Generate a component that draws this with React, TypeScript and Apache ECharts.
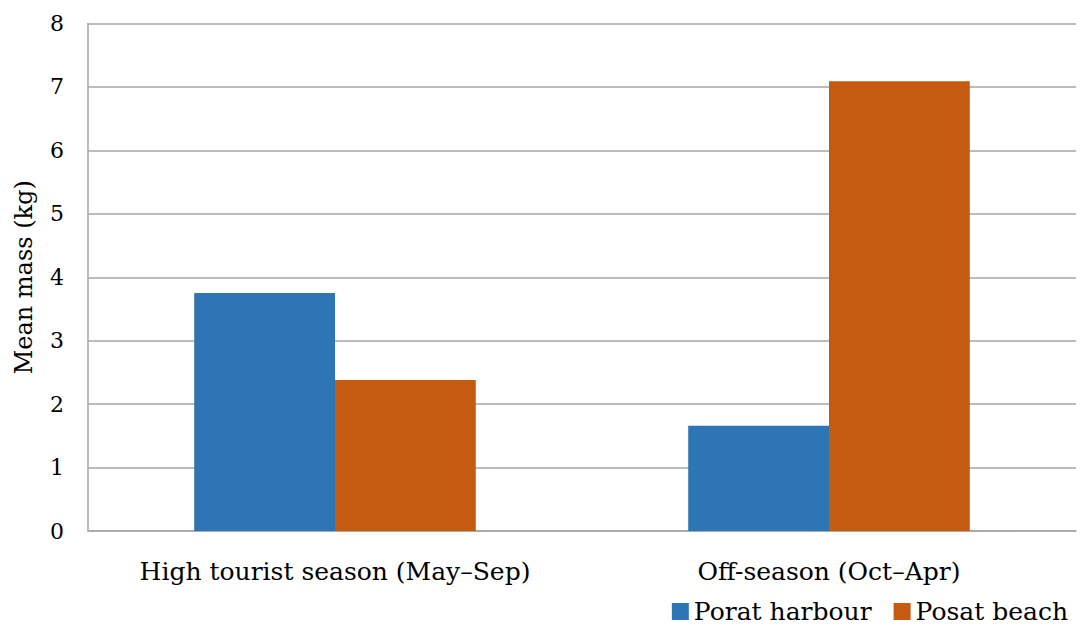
import React, { useEffect, useRef } from "react";
import * as echarts from "echarts";

const categories = ["High tourist season (May–Sep)", "Off-season (Oct–Apr)"];
const poratHarbour = [3.75, 1.66];
const posatBeach = [2.38, 7.09];
const seriesNames = ["Porat harbour", "Posat beach"];
const yTicks = [0, 1, 2, 3, 4, 5, 6, 7, 8];

const FONT = "DejaVu Serif";

export default function App() {
  const ref = useRef<HTMLDivElement>(null);
  useEffect(() => {
    if (!ref.current) return;
    const chart = echarts.init(ref.current, undefined, { renderer: "svg" });
    chart.setOption({
      animation: false,
      backgroundColor: "#ffffff",
      textStyle: { fontFamily: FONT, color: "#000" },
      grid: { left: 88, right: 11, top: 23.5, bottom: 101, containLabel: false, outerBoundsMode: "none" },
      legend: {
        data: seriesNames,
        right: 14,
        bottom: 3,
        itemWidth: 17,
        itemHeight: 17,
        itemGap: 22,
        icon: "rect",
        textStyle: { fontFamily: FONT, fontSize: 25, color: "#000" },
      },
      xAxis: {
        type: "category",
        data: categories,
        axisLine: { show: true, lineStyle: { color: "#a6a6a6", width: 1.5 } },
        axisTick: { show: false },
        axisLabel: { fontFamily: FONT, fontSize: 25, color: "#000", margin: 28, interval: 0, hideOverlap: false },
      },
      yAxis: {
        type: "value",
        min: yTicks[0],
        max: yTicks[yTicks.length - 1],
        interval: 1,
        name: "Mean mass (kg)",
        nameLocation: "middle",
        nameGap: 52,
        nameTextStyle: { fontFamily: FONT, fontSize: 24, color: "#000" },
        axisLine: { show: true, lineStyle: { color: "#a6a6a6", width: 1.5 } },
        axisTick: { show: false },
        splitLine: { show: true, lineStyle: { color: "#a6a6a6", width: 1.5 } },
        axisLabel: { fontFamily: FONT, fontSize: 22, color: "#000", margin: 24 },
      },
      series: [
        {
          name: seriesNames[0],
          type: "bar",
          data: poratHarbour,
          itemStyle: { color: "#2E75B6" },
          barGap: "0%",
          barCategoryGap: "43%",
        },
        {
          name: seriesNames[1],
          type: "bar",
          data: posatBeach,
          itemStyle: { color: "#C55A11" },
          barGap: "0%",
          barCategoryGap: "43%",
        },
      ],
    });
    return () => chart.dispose();
  }, []);
  return (
    <div
      ref={ref}
      style={{ position: "fixed", left: 0, top: 0, width: 1087, height: 632, background: "#fff" }}
    />
  );
}
